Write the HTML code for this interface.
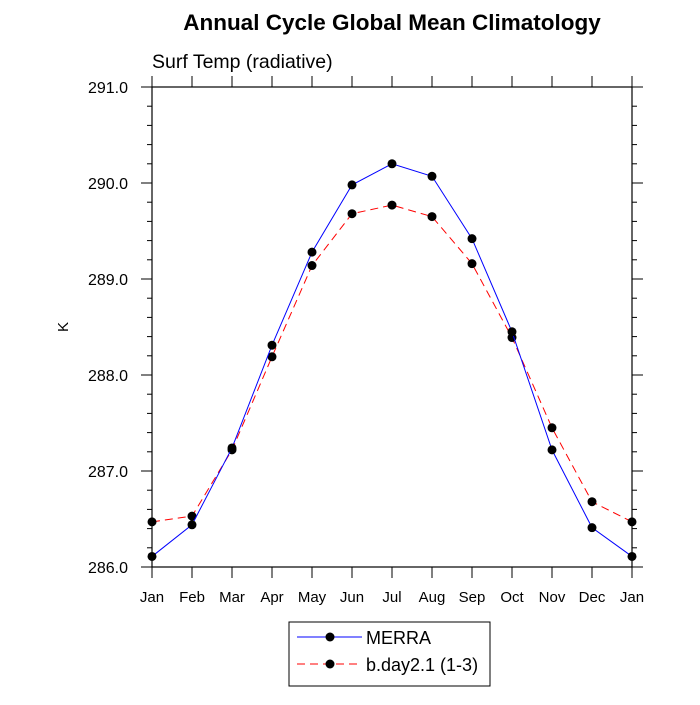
<!DOCTYPE html>
<html><head><meta charset="utf-8"><style>
body{margin:0;background:#fff;}
svg text{font-family:"Liberation Sans",sans-serif;}
</style></head><body>
<svg id="chart" width="700" height="700" xmlns="http://www.w3.org/2000/svg">
<rect width="700" height="700" fill="#fff"/>
<text x="392" y="30" font-size="22.5" font-weight="bold" text-anchor="middle">Annual Cycle Global Mean Climatology</text>
<text x="152" y="68" font-size="19.5">Surf Temp (radiative)</text>
<text x="0" y="0" font-size="15" text-anchor="middle" transform="translate(68,327) rotate(-90)">K</text>
<g id="axes"></g>
<g id="series"></g>
<g>
<rect x="289" y="622" width="201" height="64" fill="#fff" stroke="#000" stroke-width="1"/>
<line x1="297" y1="637" x2="362" y2="637" stroke="#0000ff" stroke-width="1"/>
<circle cx="330" cy="637" r="4.5" fill="#000"/>
<text x="366" y="644" font-size="18">MERRA</text>
<line x1="297" y1="664" x2="362" y2="664" stroke="#ff0000" stroke-width="1" stroke-dasharray="8,5"/>
<circle cx="330" cy="664" r="4.5" fill="#000"/>
<text x="366" y="671" font-size="18">b.day2.1 (1-3)</text>
</g>
</svg>
<script>
const months=["Jan","Feb","Mar","Apr","May","Jun","Jul","Aug","Sep","Oct","Nov","Dec","Jan"];
const merra=[286.11,286.44,287.24,288.31,289.28,289.98,290.20,290.07,289.42,288.45,287.22,286.41,286.11];
const bday=[286.47,286.53,287.22,288.19,289.14,289.68,289.77,289.65,289.16,288.39,287.45,286.68,286.47];
const yTicks=[286,287,288,289,290,291];
const yLabels=["286.0","287.0","288.0","289.0","290.0","291.0"];
const L=152,R=632,T=87,B=567,ymin=286,ymax=291;
const xs=i=>L+(R-L)*i/(months.length-1);
const ys=v=>B-(v-ymin)/(ymax-ymin)*(B-T);
const NS="http://www.w3.org/2000/svg";
function mk(tag,attrs,parent){const e=document.createElementNS(NS,tag);for(const k in attrs)e.setAttribute(k,attrs[k]);parent.appendChild(e);return e;}
const ax=document.getElementById('axes');
const fr=mk('rect',{x:L,y:T,width:R-L,height:B-T,fill:'none',stroke:'#000','stroke-width':1.2},ax);


months.forEach((m,i)=>{
  const x=xs(i);
  mk('line',{x1:x,y1:B,x2:x,y2:B+11,stroke:'#000'},ax);
  mk('line',{x1:x,y1:T,x2:x,y2:T-11,stroke:'#000'},ax);
  const t=mk('text',{x:x,y:B+35,'font-size':15,'text-anchor':'middle'},ax);
  t.textContent=m;
  
  
});
for(let v=ymin;v<=ymax+1e-9;v+=0.2){
  const y=ys(v);
  const major=Math.abs(v-Math.round(v))<1e-6;
  const len=major?11:5;
  mk('line',{x1:L,y1:y,x2:L-len,y2:y,stroke:'#000'},ax);
  mk('line',{x1:R,y1:y,x2:R+len,y2:y,stroke:'#000'},ax);
}
yTicks.forEach((v,i)=>{
  const t=mk('text',{x:128,y:ys(v)+6,'font-size':16,'text-anchor':'end'},ax);
  t.textContent=yLabels[i];
  
  
});
const sg=document.getElementById('series');
function draw(data,color,dash,name){
  const p=mk('polyline',{points:data.map((v,i)=>xs(i)+','+ys(v)).join(' '),fill:'none',stroke:color,'stroke-width':1},sg);
  if(dash)p.setAttribute('stroke-dasharray',dash);
  
  
  data.forEach((v,i)=>{
    const c=mk('circle',{cx:xs(i),cy:ys(v),r:4.5,fill:'#000'},sg);
    
    
  });
}
draw(bday,'#ff0000','8,5','bday');
draw(merra,'#0000ff',null,'merra');
</script>
</body></html>
